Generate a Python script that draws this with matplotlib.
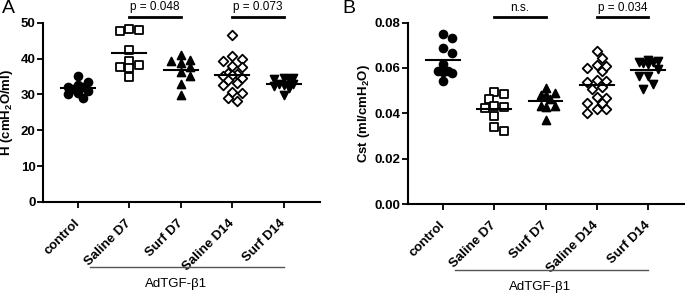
import numpy as np
import matplotlib
matplotlib.use("Agg")
import matplotlib.pyplot as plt
import matplotlib.transforms as mtransforms

plt.rcParams['font.family'] = ['Liberation Sans', 'DejaVu Sans']
plt.rcParams['mathtext.default'] = 'regular'

# Data
groups = ['control', 'Saline D7', 'Surf D7', 'Saline D14', 'Surf D14']
markers = ['o', 's', '^', 'D', 'v']
filled = [True, False, True, False, True]

h_control = [35.0, 33.5, 32.5, 32.0, 32.0, 31.5, 31.0, 30.5, 30.0, 29.0]
h_saline_d7 = [47.9, 47.7, 48.1, 42.4, 39.3, 37.6, 38.1, 37.4, 34.9]
h_surf_d7 = [39.7, 38.7, 39.2, 40.9, 36.1, 35.2, 37.6, 33.0, 29.9]
h_saline_d14 = [46.6, 40.7, 40.0, 39.4, 38.0, 37.6, 36.0, 35.7, 35.5, 35.0,
                34.5, 34.0, 33.2, 32.7, 30.8, 30.4, 28.9, 28.2]
h_surf_d14 = [34.6, 34.4, 34.5, 34.2, 33.0, 32.8, 32.5, 32.2, 31.8, 29.8]

cst_control = [0.0750, 0.0734, 0.0687, 0.0665, 0.0618, 0.0588, 0.0583, 0.0577, 0.0588, 0.0541]
cst_saline_d7 = [0.0496, 0.0484, 0.0465, 0.0434, 0.0422, 0.0427, 0.0388, 0.0341, 0.0323]
cst_surf_d7 = [0.0489, 0.0462, 0.0481, 0.0481, 0.0511, 0.0432, 0.0430, 0.0434, 0.0371]
cst_saline_d14 = [0.0675, 0.0646, 0.0613, 0.0602, 0.0588, 0.0609, 0.0544, 0.0518, 0.0540,
                  0.0547, 0.0507, 0.0473, 0.0466, 0.0447, 0.0447, 0.0418, 0.0403, 0.0418]
cst_surf_d14 = [0.0635, 0.0630, 0.0628, 0.0625, 0.0621, 0.0618, 0.0595, 0.0565, 0.0565,
                0.0530, 0.0507]

h_data = [h_control, h_saline_d7, h_surf_d7, h_saline_d14, h_surf_d14]
cst_data = [cst_control, cst_saline_d7, cst_surf_d7, cst_saline_d14, cst_surf_d14]

h_pvals = [(1, 2, 'p = 0.048'), (3, 4, 'p = 0.073')]
cst_pvals = [(1, 2, 'n.s.'), (3, 4, 'p = 0.034')]


def swarm(vals, x0, px_x, px_y, d=8.0, maxoff=14):
    # simple beeswarm so markers do not pile on top of each other
    vals = np.asarray(vals)
    order = np.argsort(vals)[::-1]
    placed = []
    offs = np.zeros(len(vals))
    step = d * 0.6
    cands = [0]
    for k in range(1, 10):
        cands += [k, -k]
    cands = [c for c in cands if abs(c * step) <= maxoff]
    for i in order:
        y = vals[i] * px_y
        best, best_d = 0, -1
        for c in cands:
            xo = c * step
            dmin = min([np.hypot(xo - px, y - py) for px, py in placed] + [99])
            if dmin >= d:
                best = xo
                break
            if dmin > best_d + 0.5:
                best, best_d = xo, dmin
        placed.append((best, y))
        offs[i] = best / px_x
    return x0 + offs


def panel(ax, data, ylim, yticks, fmt, ylabel, pvals, pbar_y, px_y, letter, label_x):
    x = np.arange(len(groups))
    for i, vals in enumerate(data):
        xs = swarm(vals, i, 51.5, px_y)
        fc = 'black' if filled[i] else 'white'
        ax.scatter(xs, vals, marker=markers[i], s=32 if markers[i] != 'D' else 24,
                   facecolor=fc, edgecolor='black', linewidth=1.3, zorder=3, clip_on=False)
        m = np.mean(vals)
        ax.plot([i - 0.33, i + 0.33], [m, m], color='black', lw=1.5, zorder=4)

    ax.set_xlim(-0.68, 4.7)
    ax.set_ylim(*ylim)
    ax.set_yticks(yticks)
    ax.set_yticklabels([fmt.format(t) for t in yticks], fontweight='bold', fontsize=9.5)
    ax.set_xticks(x)
    ax.set_xticklabels(groups, rotation=45, ha='right', va='center',
                       rotation_mode='anchor', fontweight='bold', fontsize=9.5)
    for s in ['top', 'right']:
        ax.spines[s].set_visible(False)
    for s in ['left', 'bottom']:
        ax.spines[s].set_linewidth(1.5)
    ax.tick_params(axis='both', width=1.3, length=4, pad=1.5)
    ax.tick_params(axis='x', pad=10)
    ax.set_ylabel(ylabel, fontweight='bold', fontsize=9.5)
    ax.yaxis.set_label_coords(label_x, 0.5)

    for a, b, txt in pvals:
        ax.plot([a, b], [pbar_y, pbar_y], color='black', lw=2, clip_on=False)
        ax.text((a + b) / 2, pbar_y + (ylim[1] - ylim[0]) * 0.02, txt,
                ha='center', va='bottom', fontsize=8.5)

    trans = mtransforms.blended_transform_factory(ax.transData, ax.transAxes)
    ax.plot([0.23, 4.0], [-0.365, -0.365], color='#555555', lw=1, transform=trans, clip_on=False)
    ax.text(1.9, -0.46, 'AdTGF-β1', transform=trans, ha='center', va='center', fontsize=9.5)
    lx = 0.003 if letter == 'A' else 0.5
    ax.figure.text(lx, 1.0, letter, fontsize=14, ha='left', va='top')


fig = plt.figure(figsize=(6.85, 2.94), dpi=100)
ax1 = fig.add_axes([0.0628, 0.313, 0.404, 0.61])
ax2 = fig.add_axes([0.5956, 0.306, 0.403, 0.617])

panel(ax1, h_data, (0, 50), [0, 10, 20, 30, 40, 50], '{:.0f}', 'H (cmH$_2$O/ml)',
      h_pvals, 51.7, 3.58, 'A', -0.10)
panel(ax2, cst_data, (0, 0.08), [0, 0.02, 0.04, 0.06, 0.08], '{:.2f}', 'Cst (ml/cmH$_2$O)',
      cst_pvals, 0.0824, 2266, 'B', -0.13)

fig.savefig('out.png', dpi=100)
